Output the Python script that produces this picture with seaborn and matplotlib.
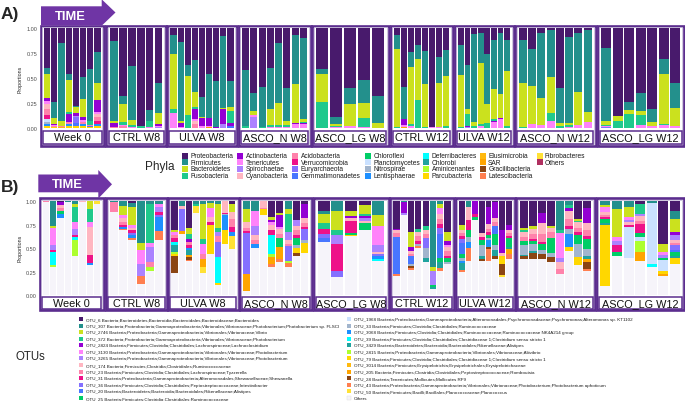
import matplotlib
matplotlib.use("Agg")
import matplotlib.pyplot as plt
from matplotlib.patches import Rectangle, Polygon
import seaborn as sns

sns.set_theme(style="white")
plt.rcParams['font.family'] = ['Liberation Sans', 'DejaVu Sans']

W, H = 685, 402

groups = ["Week 0", "CTRL W8", "ULVA W8", "ASCO_N W8", "ASCO_LG W8",
          "CTRL W12", "ULVA W12", "ASCO_N W12", "ASCO_LG W12"]

# ---------------- Phyla (panel A) ----------------
phyla_keys = ['Pro', 'Fir', 'Bac', 'Fus', 'Act', 'Ten', 'Spi', 'Cya', 'Aci', 'Ver',
              'Eur', 'Gem', 'Chl', 'Pla', 'Nit', 'Len', 'Def', 'Chb', 'Ami', 'Par',
              'Elu', 'SAR', 'Gra', 'Lat', 'Fib', 'Oth']
phyla_names = ['Proteobacteria', 'Firmicutes', 'Bacteroidetes', 'Fusobacteria',
               'Actinobacteria', 'Tenericutes', 'Spirochaetae', 'Cyanobacteria',
               'Acidobacteria', 'Verrucomicrobia', 'Euryarchaeota', 'Gemmatimonadetes',
               'Chloroflexi', 'Planctomycetes', 'Nitrospirae', 'Lentisphaerae',
               'Deferribacteres', 'Chlorobi', 'Aminicenantes', 'Parcubacteria',
               'Elusimicrobia', 'SAR', 'Gracilibacteria', 'Latescibacteria',
               'Fibrobacteres', 'Others']
palette = ['#481A6C', '#23908C', '#CBE11E', '#1FC98C', '#9400D3', '#FF83FA', '#AB82FF',
           '#FFB6C1', '#FF82AB', '#EE1289', '#8470FF', '#4876FF', '#00CD66', '#CAE1FF',
           '#A2B5CD', '#1E90FF', '#00FFFF', '#20A39E', '#ADFF2F', '#FFD700', '#FFB90F',
           '#FFA500', '#8B4513', '#FF7F50', '#FFE135']
phyla_colors = palette + ['#B03060']

phyla_week0 = [
    dict(Pro=.40, Fir=.06, Bac=.24, Act=.03, Ten=.03, Cya=.05, Aci=.06, Ver=.04, Pla=.03, Nit=.02, Len=.02, Par=.02),
    dict(Pro=.74, Fir=.16, Bac=.06, Act=.01, Ten=.01, Aci=.01, Par=.01),
    dict(Pro=.15, Fir=.78, Bac=.05, Aci=.01, Elu=.01),
    dict(Pro=.46, Fir=.06, Bac=.32, Fus=.02, Act=.08, Aci=.02, Len=.02, Par=.02),
    dict(Pro=.78, Fir=.01, Bac=.06, Act=.03, Spi=.01, Eur=.06, Gem=.03, Par=.02),
    dict(Pro=.49, Fir=.22, Bac=.18, Act=.03, Ten=.02, Aci=.02, Len=.02, Par=.02),
    dict(Pro=.41, Fir=.52, Fus=.04, Aci=.01, Gem=.01, Par=.01),
    dict(Pro=.24, Fir=.31, Bac=.17, Act=.12, Ten=.02, Cya=.03, Aci=.04, Ver=.03, Len=.02, Par=.02),
]
phyla_ctrl_w8 = [
    dict(Pro=.13, Fir=.80, Bac=.02, Act=.04, Aci=.01),
    dict(Pro=.68, Fir=.08, Bac=.18, Fus=.03, Ten=.01, Aci=.02),
    dict(Pro=.38, Fir=.54, Bac=.05, Fus=.02, Ten=.01),
    dict(Pro=.98, Fus=.02),
    dict(Pro=.82, Fir=.11, Fus=.06, Ten=.01),
    dict(Pro=.55, Fir=.30, Bac=.11, Act=.02, Ten=.01, Spi=.01),
]
phyla_ulva_w8 = [
    dict(Pro=.07, Fir=.19, Bac=.55, Fus=.04, Ten=.15),
    dict(Pro=.14, Fir=.79, Bac=.02, Act=.04, Ten=.01),
    dict(Pro=.37, Fir=.11, Bac=.39, Fus=.13),
    dict(Pro=.32, Fir=.32, Bac=.15, Fus=.02, Act=.10, Ten=.02, Cya=.03, Aci=.04),
    dict(Pro=.69, Fir=.20, Bac=.01, Act=.08, Ten=.02),
    dict(Pro=.46, Fir=.44, Act=.08, Ten=.01, SAR=.01),
    dict(Pro=.53, Fir=.46, Act=.01),
    dict(Pro=.08, Fir=.72, Bac=.01, Act=.15, Spi=.04),
    dict(Pro=.53, Fir=.26, Bac=.04, Fus=.12, Act=.03, Gem=.02),
]
phyla_ascon_w8 = [
    dict(Pro=.42, Fir=.56, Fus=.02),
    dict(Pro=.65, Fir=.18, Bac=.04, Ten=.02, Spi=.11),
    dict(Pro=.59, Fir=.40, Fus=.01),
    dict(Pro=.41, Fir=.41, Bac=.16, Fus=.02, Ten=.01),
    dict(Pro=.15, Fir=.60, Bac=.22, Fus=.02, Ten=.01),
    dict(Pro=.60, Fir=.33, Bac=.04, Fus=.02, Ten=.01),
    dict(Pro=.07, Fir=.49, Bac=.39, Act=.01, Ten=.04),
    dict(Pro=.10, Fir=.81, Bac=.03, Fus=.01, Act=.01, Ten=.04),
]
phyla_asclg_w8 = [
    dict(Pro=.41, Fir=.05, Bac=.28, Fus=.26),
    dict(Pro=.89, Fir=.07, Bac=.02, Fus=.01, Ten=.01),
    dict(Pro=.60, Fir=.16, Bac=.22, Ten=.02),
    dict(Pro=.52, Fir=.23, Bac=.15, Fus=.09, Ten=.01),
    dict(Pro=.68, Fir=.27, Bac=.05),
]
phyla_ctrl_w12 = [
    dict(Pro=.07, Fir=.14, Bac=.78, Fus=.01),
    dict(Pro=.59, Fir=.32, Act=.06, Ten=.02, SAR=.01),
    dict(Pro=.24, Fir=.15, Bac=.57, Fus=.02, Ten=.02),
    dict(Pro=.17, Fir=.14, Bac=.41, Fus=.28),
    dict(Pro=.23, Fir=.33, Bac=.43, Fus=.01),
    dict(Pro=.99, Ten=.01),
    dict(Pro=.29, Fir=.26, Bac=.44, Ten=.01),
    dict(Pro=.22, Fir=.26, Bac=.50, Fus=.02),
]
phyla_ulva_w12 = [
    dict(Pro=.17, Fir=.30, Bac=.52, Fus=.01),
    dict(Pro=.37, Fir=.44, Bac=.05, Fus=.12, Act=.01, Spi=.01),
    dict(Pro=.06, Fir=.88, Bac=.04, Fus=.02),
    dict(Pro=.05, Fir=.30, Bac=.61, Fus=.02, Ten=.02),
    dict(Pro=.26, Fir=.50, Bac=.19, Fus=.05),
    dict(Pro=.12, Fir=.49, Bac=.30, Fus=.02, Act=.01, Ten=.06),
    dict(Pro=.05, Fir=.61, Bac=.24, Act=.01, Ten=.09),
    dict(Pro=.12, Fir=.31, Bac=.55, Fus=.02),
]
phyla_ascon_w12 = [
    dict(Pro=.12, Fir=.43, Bac=.44, Fus=.01),
    dict(Pro=.21, Fir=.37, Bac=.38, Ten=.04),
    dict(Pro=.05, Fir=.65, Bac=.27, Ten=.03),
    dict(Pro=.02, Fir=.47, Bac=.36, Fus=.08, Ten=.07),
    dict(Pro=.60, Fir=.35, Bac=.03, Fus=.02),
    dict(Pro=.09, Fir=.86, Bac=.02, Fus=.02, Ten=.01),
    dict(Pro=.05, Fir=.59, Bac=.33, Ten=.03),
    dict(Pro=.02, Fir=.82, Bac=.10, Ten=.06),
]
phyla_asclg_w12 = [
    dict(Pro=.20, Fir=.73, Bac=.04, Fus=.01, Ten=.01, Eur=.01),
    dict(Pro=.88, Bac=.05, Fus=.07),
    dict(Pro=.74, Fir=.08, Bac=.04, Fus=.14),
    dict(Pro=.65, Fir=.18, Bac=.04, Fus=.10, Ten=.03),
    dict(Pro=.81, Fir=.13, Bac=.04, Ten=.02),
    dict(Pro=.31, Fir=.15, Bac=.50, Fus=.01, Ten=.03),
    dict(Pro=.55, Fir=.25, Bac=.18, Ten=.02),
]
phyla_data = [phyla_week0, phyla_ctrl_w8, phyla_ulva_w8, phyla_ascon_w8, phyla_asclg_w8,
              phyla_ctrl_w12, phyla_ulva_w12, phyla_ascon_w12, phyla_asclg_w12]

# ---------------- OTUs (panel B) ----------------
otu_keys = ['O6', 'O307', 'O2746', 'O372', 'O2824', 'O3130', 'O3265', 'O174', 'O23', 'O31',
            'O36', 'O20', 'O25', 'O1968', 'O33', 'O3068', 'O39', 'O3429', 'O2815', 'O79',
            'O3014', 'O205', 'O28', 'O43', 'O50', 'Oth']
otu_labels = [
    "OTU_6 Bacteria;Bacteroidetes;Bacteroidia;Bacteroidales;Bacteroidaceae;Bacteroides",
    "OTU_307 Bacteria;Proteobacteria;Gammaproteobacteria;Vibrionales;Vibrionaceae;Photobacterium;Photobacterium sp. FLSCI",
    "OTU_2746 Bacteria;Proteobacteria;Gammaproteobacteria;Vibrionales;Vibrionaceae;Vibrio",
    "OTU_372 Bacteria;Proteobacteria;Gammaproteobacteria;Vibrionales;Vibrionaceae;Photobacterium",
    "OTU_2824 Bacteria;Firmicutes;Clostridia;Clostridiales;Lachnospiraceae;Lachnoclostridium",
    "OTU_3130 Bacteria;Proteobacteria;Gammaproteobacteria;Vibrionales;Vibrionaceae;Photobacterium",
    "OTU_3265 Bacteria;Proteobacteria;Gammaproteobacteria;Vibrionales;Vibrionaceae;Photobacterium",
    "OTU_174 Bacteria;Firmicutes;Clostridia;Clostridiales;Ruminococcaceae",
    "OTU_23 Bacteria;Firmicutes;Clostridia;Clostridiales;Lachnospiraceae;Tyzzerella",
    "OTU_31 Bacteria;Proteobacteria;Gammaproteobacteria;Alteromonadales;Shewanellaceae;Shewanella",
    "OTU_36 Bacteria;Firmicutes;Clostridia;Clostridiales;Peptostreptococcaceae;Intestinibacter",
    "OTU_20 Bacteria;Bacteroidetes;Bacteroidia;Bacteroidales;Rikenellaceae;Alistipes",
    "OTU_25 Bacteria;Firmicutes;Clostridia;Clostridiales;Ruminococcaceae",
    "OTU_1968 Bacteria;Proteobacteria;Gammaproteobacteria;Alteromonadales;Psychromonadaceae;Psychromonas;Alteromonas sp. KT1102",
    "OTU_33 Bacteria;Firmicutes;Clostridia;Clostridiales;Ruminococcaceae",
    "OTU_3068 Bacteria;Firmicutes;Clostridia;Clostridiales;Ruminococcaceae;Ruminococcaceae NK4A214 group",
    "OTU_39 Bacteria;Firmicutes;Clostridia;Clostridiales;Clostridiaceae 1;Clostridium sensu stricto 1",
    "OTU_3429 Bacteria;Bacteroidetes;Bacteroidia;Bacteroidales;Rikenellaceae;Alistipes",
    "OTU_2815 Bacteria;Proteobacteria;Gammaproteobacteria;Vibrionales;Vibrionaceae;Aliivibrio",
    "OTU_79 Bacteria;Firmicutes;Clostridia;Clostridiales;Clostridiaceae 1;Clostridium sensu stricto 1",
    "OTU_3014 Bacteria;Firmicutes;Erysipelotrichia;Erysipelotrichales;Erysipelotrichaceae",
    "OTU_205 Bacteria;Firmicutes;Clostridia;Clostridiales;Peptostreptococcaceae;Romboutsia",
    "OTU_28 Bacteria;Tenericutes;Mollicutes;Mollicutes RF9",
    "OTU_43 Bacteria;Proteobacteria;Gammaproteobacteria;Vibrionales;Vibrionaceae;Photobacterium;Photobacterium aphoticum",
    "OTU_50 Bacteria;Firmicutes;Bacilli;Bacillales;Planococcaceae;Planococcus",
    "Others",
]
otu_colors = palette + ['#F6F4FA']

otu_week0 = [
    dict(O23=.01, Oth=.99),
    dict(O307=.26, O2746=.02, O3130=.19, O3265=.05, O31=.02, O39=.14, O2815=.02, Oth=.30),
    dict(O6=.01, O2824=.03, O174=.03, O23=.03, O25=.04, O3068=.04, Oth=.82),
    dict(O307=.01, Oth=.99),
    dict(O307=.03, O2746=.03, O372=.16, O3130=.07, O3265=.07, O31=.02, O39=.03, O2815=.17, Oth=.42),
    dict(O174=.01, Oth=.99),
    dict(O2746=.08, O372=.14, O3130=.05, O174=.30, O31=.09, O3068=.02, Oth=.32),
    dict(O50=.03, Oth=.97),
]
otu_ctrl_w8 = [
    dict(O307=.01, O23=.10, Oth=.89),
    dict(O307=.05, O2746=.10, O3130=.03, O174=.04, O23=.03, O31=.02, O3068=.02, O43=.02, Oth=.69),
    dict(O6=.02, O307=.04, O2746=.19, O3130=.03, O174=.03, O31=.03, O36=.02, O3068=.03, O43=.02, Oth=.59),
    dict(O307=.44, O2746=.08, O3130=.15, O3265=.12, O43=.09, Oth=.12),
    dict(O307=.03, O372=.41, O3130=.05, O3265=.16, O23=.05, O2815=.04, Oth=.26),
    dict(O307=.03, O3130=.03, O3265=.05, O31=.04, O36=.02, O3068=.15, O43=.09, Oth=.59),
]
otu_ulva_w8 = [
    dict(O6=.31, O2746=.02, O3130=.03, O23=.03, O31=.04, O39=.03, O3429=.08, O2815=.02, O79=.02, O28=.18, Oth=.24),
    dict(O307=.05, O174=.03, O36=.24, O205=.03, Oth=.65),
    dict(O6=.28, O2746=.07, O372=.05, O2824=.03, O23=.04, O31=.03, O3068=.02, O3429=.05, O205=.02, O28=.03, O43=.01, Oth=.37),
    dict(O307=.03, O372=.02, O50=.07, Oth=.88),
    dict(O307=.03, O2746=.37, O372=.05, O3130=.11, O23=.05, O205=.09, O50=.06, Oth=.24),
    dict(O307=.02, O2746=.05, O3130=.10, O174=.05, O31=.03, O79=.31, Oth=.44),
    dict(O307=.03, O2746=.25, O372=.05, O3265=.04, O23=.06, O36=.16, O39=.28, O79=.02, Oth=.11),
    dict(O174=.12, O31=.02, O33=.01, O3068=.15, O79=.15, Oth=.55),
    dict(O6=.03, O2746=.08, O174=.08, O23=.08, O31=.06, O3068=.04, O50=.14, Oth=.49),
]
otu_ascon_w8 = [
    dict(O307=.08, O2746=.14, O174=.06, O23=.04, O31=.02, O36=.43, O205=.18, Oth=.05),
    dict(O307=.10, O3130=.16, O3265=.10, O174=.05, O23=.04, O3068=.05, Oth=.50),
    dict(O174=.07, O23=.01, O79=.07, Oth=.85),
    dict(O6=.17, O2746=.03, O2824=.02, O3130=.03, O174=.05, O31=.06, O39=.20, O2815=.03, O205=.08, O43=.03, Oth=.30),
    dict(O6=.12, O2746=.03, O2824=.12, O3130=.02, O174=.06, O23=.04, O25=.10, O205=.12, O43=.04, Oth=.35),
    dict(O307=.08, O2746=.05, O372=.20, O3265=.08, O174=.04, O23=.03, O36=.15, O2815=.03, O43=.04, Oth=.30),
    dict(O6=.20, O3265=.06, O174=.05, O23=.05, O31=.03, O25=.07, O33=.04, O79=.05, O28=.03, Oth=.42),
    dict(O6=.03, O2824=.15, O174=.05, O23=.04, O31=.02, O36=.12, O33=.03, O79=.11, Oth=.45),
]
otu_asclg_w8 = [
    dict(O6=.10, O307=.04, O2746=.09, O372=.06, O31=.06, O36=.04, O20=.04, Oth=.57),
    dict(O307=.10, O2746=.21, O372=.05, O3265=.09, O31=.29, O36=.07, Oth=.19),
    dict(O6=.10, O2746=.06, O2824=.02, O174=.03, O31=.13, O25=.02, O79=.01, Oth=.63),
    dict(O6=.04, O2746=.10, O372=.02, O2824=.02, O3265=.03, O174=.02, O25=.07, Oth=.70),
    dict(O307=.15, O2746=.11, O3130=.21, O3265=.07, O174=.02, O36=.02, O3068=.03, O39=.02, Oth=.37),
]
otu_ctrl_w12 = [
    dict(O6=.29, O2824=.02, O174=.03, O23=.04, O20=.39, O43=.02, Oth=.21),
    dict(O307=.01, O2824=.11, O3265=.03, Oth=.85),
    dict(O6=.33, O2746=.16, O2824=.04, O174=.03, O23=.02, O20=.09, O33=.02, O28=.02, O43=.02, Oth=.27),
    dict(O6=.29, O372=.04, O174=.04, O23=.05, O31=.03, O33=.03, O43=.02, Oth=.50),
    dict(O6=.26, O372=.04, O174=.05, O23=.04, O36=.11, O33=.10, O3429=.05, Oth=.35),
    dict(O307=.70, O2746=.04, O3265=.15, O25=.02, O3429=.02, Oth=.07),
    dict(O307=.03, O2746=.04, O3130=.06, O174=.06, O23=.05, O31=.04, O36=.07, O20=.25, O25=.05, O3429=.06, O43=.03, Oth=.26),
    dict(O6=.33, O2746=.09, O2824=.04, O3130=.03, O174=.04, O23=.05, O31=.02, O25=.05, O33=.02, Oth=.33),
]
otu_ulva_w12 = [
    dict(O6=.25, O2746=.05, O174=.04, O23=.03, O31=.03, O36=.04, O20=.12, O25=.04, O33=.04, O3068=.02, O3429=.07, O43=.02, Oth=.25),
    dict(O307=.06, O174=.14, O31=.11, O25=.07, O3068=.07, O33=.05, O43=.14, Oth=.36),
    dict(O2824=.13, O31=.04, O25=.03, Oth=.80),
    dict(O6=.34, O174=.04, O31=.03, O25=.05, O33=.12, O3429=.03, O28=.03, Oth=.36),
    dict(O6=.06, O2824=.18, O174=.05, O23=.04, O31=.03, O25=.03, O33=.02, O3068=.08, O28=.02, O43=.12, Oth=.37),
    dict(O6=.01, O2824=.17, O174=.04, O23=.04, O20=.09, O25=.12, O33=.05, O3429=.06, O28=.03, Oth=.39),
    dict(O6=.30, O2824=.25, O174=.03, O79=.09, O28=.11, O50=.03, Oth=.19),
    dict(O6=.25, O2824=.05, O174=.04, O23=.03, O31=.02, O25=.10, O3429=.02, O205=.05, O43=.05, Oth=.39),
]
otu_ascon_w12 = [
    dict(O6=.28, O2746=.03, O372=.02, O174=.05, O23=.04, O25=.05, O33=.10, O3429=.01, O28=.03, Oth=.39),
    dict(O6=.26, O2746=.03, O174=.06, O23=.05, O31=.02, O25=.03, O33=.08, O3429=.02, O28=.06, Oth=.39),
    dict(O6=.12, O2824=.11, O174=.12, O23=.08, O31=.02, O25=.07, O33=.04, O28=.05, Oth=.39),
    dict(O6=.26, O2746=.02, O174=.05, O23=.06, O25=.16, O33=.04, O28=.06, Oth=.35),
    dict(O307=.31, O372=.03, O3130=.26, O3265=.05, O174=.07, O23=.05, Oth=.23),
    dict(O307=.04, O372=.03, O2824=.03, O174=.09, O23=.07, O31=.03, O33=.06, O3068=.14, O79=.04, Oth=.47),
    dict(O6=.19, O2746=.02, O372=.01, O174=.06, O23=.05, O31=.03, O25=.09, O33=.14, O79=.09, Oth=.32),
    dict(O6=.07, O2824=.16, O174=.08, O23=.06, O31=.03, O25=.11, O33=.07, O3429=.03, O205=.04, O28=.07, O43=.02, Oth=.26),
]
otu_asclg_w12 = [
    dict(O307=.04, O2746=.02, O3130=.05, O174=.04, O23=.02, O31=.02, O25=.04, O3429=.02, O79=.65, Oth=.10),
    dict(O307=.08, O2746=.30, O3130=.04, O3265=.04, O31=.08, O25=.04, Oth=.42),
    dict(O307=.06, O2746=.11, O3130=.03, O3265=.02, O174=.03, O31=.02, O1968=.33, Oth=.40),
    dict(O6=.03, O372=.10, O3265=.03, O174=.05, O23=.03, O31=.10, O25=.04, O1968=.04, O2815=.12, O205=.09, Oth=.37),
    dict(O307=.02, O1968=.65, O39=.03, Oth=.30),
    dict(O6=.45, O2746=.09, O3130=.03, O3265=.03, O25=.02, O1968=.12, O79=.03, O205=.02, Oth=.21),
    dict(O6=.10, O307=.09, O2746=.14, O2824=.03, O3265=.05, O174=.03, O23=.03, O36=.05, O20=.02, O25=.04, O3429=.02, O79=.07, Oth=.33),
]
otu_data = [otu_week0, otu_ctrl_w8, otu_ulva_w8, otu_ascon_w8, otu_asclg_w8,
            otu_ctrl_w12, otu_ulva_w12, otu_ascon_w12, otu_asclg_w12]

y_ticks = [0.0, 0.25, 0.50, 0.75, 1.00]
y_tick_labels = ["0.00", "0.25", "0.50", "0.75", "1.00"]

# ---------------- layout (pixels) ----------------
frames_a = [(40.5, 104), (106.5, 166), (167, 237), (238.5, 310.5), (312, 388.5),
            (390.5, 452.5), (454.5, 513.5), (515, 595.5), (597.5, 684)]
frames_b = [(39.5, 103.5), (106, 167), (168, 238.5), (239.5, 312), (313.5, 388.5),
            (390, 454), (455.5, 515), (516, 595), (596.5, 684)]

PURPLE = '#5B2D8E'
ARROW = '#6F35A5'

fig = plt.figure(figsize=(W / 100, H / 100), dpi=100)


def fr(x, y):
    return (x / W, 1 - y / H)


def rect(x0, y0, x1, y1, **kw):
    fig.add_artist(Rectangle(fr(x0, y1), (x1 - x0) / W, (y1 - y0) / H,
                             transform=fig.transFigure, **kw))


def draw_panel(data, keys, colors, frames, fr_top, fr_bot, y1px, y0px, strip_top, strip_bot, lab_y):
    for gi, (grp, bars) in enumerate(zip(groups, data)):
        x0, x1 = frames[gi]
        rect(x0, fr_top, x1, fr_bot, facecolor='white', edgecolor=PURPLE, linewidth=1.9, zorder=0)
        rect(x0 + 1.6, fr_top + 1.6, x1 - 1.6, fr_bot - 1.6, facecolor='none',
             edgecolor='#C9BEDB', linewidth=0.6, zorder=0.5)
        al, ar = x0 + 2.6, x1 - 2.6
        at, ab = fr_top + 1.4, strip_top - 0.6
        ax = fig.add_axes([al / W, 1 - ab / H, (ar - al) / W, (ab - at) / H])
        ax.patch.set_alpha(0)
        scale = y0px - y1px
        ax.set_ylim(-(ab - y0px) / scale, 1 + (y1px - at) / scale)
        n = len(bars)
        ax.set_xlim(-0.55, n - 0.45)
        for i, comp in enumerate(bars):
            total = sum(comp.values())
            top = 1.0
            for k, c in zip(keys, colors):
                v = comp.get(k, 0) / total
                if v <= 0:
                    continue
                ax.bar(i, v, bottom=top - v, width=0.86, color=c, linewidth=0)
                top -= v
        sns.despine(ax=ax, left=True, bottom=True)
        ax.set_xticks([])
        if gi == 0:
            ax.set_yticks(y_ticks)
            ax.set_yticklabels(y_tick_labels, fontsize=4, color='#4D4D4D')
            ax.tick_params(axis='y', length=0, pad=4.2)
        else:
            ax.set_yticks([])
        rect(x0 + 2.2, strip_top, x1 - 2.2, strip_bot, facecolor='white', edgecolor=PURPLE,
             linewidth=1.1, zorder=1)
        fig.text((x0 + x1) / 2 / W, 1 - (strip_top + strip_bot) / 2 / H, grp,
                 ha='center', va='center', fontsize=7.8, color='#111111', zorder=2)
    fig.text(20.5 / W, 1 - lab_y / H, 'Proportions', rotation=90, ha='center', va='center',
             fontsize=3.8, color='#222222')


def arrow(x0, x1, xtip, body_top, body_bot, head_top, head_bot, tip_y, text_x, text_y):
    pts = [(x0, body_top), (x1, body_top), (x1, head_top), (xtip, tip_y), (x1, head_bot),
           (x1, body_bot), (x0, body_bot)]
    fig.add_artist(Polygon([fr(*p) for p in pts], closed=True, transform=fig.transFigure,
                           facecolor=ARROW, edgecolor='none'))
    fig.text(text_x / W, 1 - text_y / H, 'TIME', color='white', fontweight='bold',
             fontsize=9.3, ha='center', va='center')


# ---------------- Panel A ----------------
fig.text(0.5 / W, 1 - 15 / H, 'A)', fontsize=12.5, fontweight='bold', ha='left', va='center')
arrow(41, 101.7, 115.5, 7.3, 26.5, 0.3, 26.7, 13.5, 70, 16.5)
draw_panel(phyla_data, phyla_keys, phyla_colors, frames_a, 26.5, 146.5, 28.7, 129.0,
           131.5, 145.2, 79)

fig.text(145 / W, 1 - 167 / H, 'Phyla', fontsize=8.5, ha='left', va='center')
col_x = [182.3, 237.3, 292.3, 365, 423.3, 480, 536.7]
row_y = [156.7, 163.3, 170, 176.7]
for i, (name, c) in enumerate(zip(phyla_names, phyla_colors)):
    cx = col_x[i // 4]
    cy = row_y[i % 4]
    rect(cx, cy - 3, cx + 6, cy + 3, facecolor=c, edgecolor='none')
    fig.text((cx + 8.2) / W, 1 - cy / H, name, fontsize=4.8, ha='left', va='center',
             color='#1A1A1A')

# ---------------- Panel B ----------------
fig.text(0.5 / W, 1 - 187.5 / H, 'B)', fontsize=12.5, fontweight='bold', ha='left', va='center')
arrow(38.3, 98.3, 112, 175.5, 193.3, 171, 199.5, 185.3, 67.5, 185.5)
draw_panel(otu_data, otu_keys, otu_colors, frames_b, 199, 311, 202.3, 296.3,
           297.8, 309.8, 248)

fig.text(15 / W, 1 - 357 / H, 'OTUs', fontsize=8.3, ha='left', va='center')
for i, (lab, c) in enumerate(zip(otu_labels, otu_colors)):
    if i < 13:
        sx, cy = 79.3, 320 + i * 6.58
    else:
        sx, cy = 347.3, 320 + (i - 13) * 6.58
    rect(sx, cy - 2, sx + 4, cy + 2, facecolor=c,
         edgecolor='#DDDDDD' if lab == 'Others' else 'none', linewidth=0.3)
    fig.text((sx + 6.5) / W, 1 - cy / H, lab, fontsize=3.22, ha='left', va='center',
             color='#1A1A1A')

fig.savefig('out.png', dpi=100)
